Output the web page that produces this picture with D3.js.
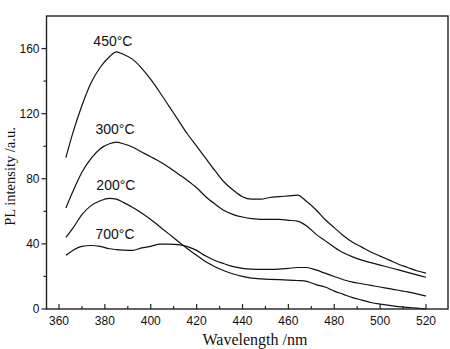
<!DOCTYPE html>
<html>
<head>
<meta charset="utf-8">
<script src="https://cdn.jsdelivr.net/npm/d3@7"></script>
<style>
  html, body { margin: 0; padding: 0; background: #fff; }
  svg { display: block; }
</style>
</head>
<body>
<svg id="chart" width="450" height="349"></svg>
<script>
// ---- data ----
const wavelengths = [363, 366, 370, 374, 378, 382, 385, 388, 392, 396, 400, 404, 408, 412, 416, 420, 424, 428, 432, 436, 440, 444, 448, 452, 456, 460, 464, 468, 472, 476, 480, 484, 488, 492, 496, 500, 504, 508, 512, 516, 520];
const s450 = [93, 108, 125, 139, 148.5, 155, 158, 156.5, 153.5, 148, 141, 133, 124.5, 116, 107.5, 100, 92.5, 85, 78, 73, 69, 67.5, 67.5, 68.5, 69, 69.5, 70, 66, 61, 55, 50, 45, 41, 38, 35, 32.5, 30, 27.5, 25.5, 23.5, 22];
const s300 = [62, 72, 84, 92.5, 98.5, 101.5, 102.5, 101.5, 99.5, 96.5, 93.5, 90.5, 87, 83, 79, 74.5, 69, 64.5, 60.5, 58, 56.5, 55.5, 55, 55, 55, 54.5, 54, 51, 46, 42, 38, 34.5, 32, 30, 28.5, 27, 25.5, 24, 22.5, 21, 19.5];
const s200 = [44, 49.5, 58, 63.5, 66.5, 68, 67.5, 65.5, 62.5, 59, 55, 50.5, 46, 41.5, 37, 33, 29, 26, 23.5, 21.5, 20, 19, 18.5, 18.2, 18, 17.8, 17.5, 17, 15, 13.5, 11, 9, 7, 5.5, 4, 3, 2.2, 1.5, 1, 0.5, 0];
const s700 = [33, 36, 38.5, 39, 38.5, 37, 36.5, 36.2, 36, 37.5, 38.5, 39.8, 39.8, 39.5, 38.3, 36, 32.5, 29.8, 27.8, 26, 25, 24.5, 24.3, 24.3, 24.5, 25, 25.5, 25.5, 24, 22, 20, 18, 16.5, 15.5, 14.5, 13.5, 12.5, 11.5, 10.5, 9.3, 8];
const seriesLabels = ["450°C", "300°C", "200°C", "700°C"];
const labelWl = [383.5, 384.4, 384.8, 384.4];
const labelVal = [161.7, 107.5, 73.1, 43];
const xMajorTicks = [360, 380, 400, 420, 440, 460, 480, 500, 520];
const xMinorTicks = [370, 390, 410, 430, 450, 470, 490, 510];
const yMajorTicks = [0, 40, 80, 120, 160];
const yMinorTicks = [20, 60, 100, 140];

// ---- layout ----
const frame = { left: 46.5, right: 448, top: 16, bottom: 309 };
const svg = d3.select("#chart");
const x = d3.scaleLinear().domain([360, 520]).range([59, 426]);
const y = d3.scaleLinear().domain([0, 180]).range([frame.bottom, frame.top]);

const allSeries = [s450, s300, s200, s700];

// curves
const line = d3.line()
  .x((d, i) => x(wavelengths[i]))
  .y(d => y(d))
  .curve(d3.curveMonotoneX);

svg.append("g").selectAll("path")
  .data(allSeries)
  .join("path")
  .attr("d", d => line(d))
  .attr("fill", "none")
  .attr("stroke", "#111")
  .attr("stroke-width", 1.2);

// frame
svg.append("rect")
  .attr("x", frame.left).attr("y", frame.top)
  .attr("width", frame.right - frame.left)
  .attr("height", frame.bottom - frame.top)
  .attr("fill", "none").attr("stroke", "#222").attr("stroke-width", 1.4);

// x axis ticks (inward)
const gx = svg.append("g");
gx.selectAll("line.maj").data(xMajorTicks).join("line")
  .attr("x1", d => x(d)).attr("x2", d => x(d))
  .attr("y1", frame.bottom).attr("y2", frame.bottom - 5)
  .attr("stroke", "#222").attr("stroke-width", 1.2);
gx.selectAll("line.min").data(xMinorTicks).join("line")
  .attr("x1", d => x(d)).attr("x2", d => x(d))
  .attr("y1", frame.bottom).attr("y2", frame.bottom - 3)
  .attr("stroke", "#222").attr("stroke-width", 1.2);
gx.selectAll("text").data(xMajorTicks).join("text")
  .attr("x", d => x(d)).attr("y", frame.bottom + 16)
  .attr("text-anchor", "middle")
  .attr("font-family", "Liberation Sans, Arial, sans-serif")
  .attr("font-size", 12).attr("fill", "#111")
  .text(d => d);

// y axis ticks (outward)
const gy = svg.append("g");
gy.selectAll("line.maj").data(yMajorTicks).join("line")
  .attr("x1", frame.left).attr("x2", frame.left - 5)
  .attr("y1", d => y(d)).attr("y2", d => y(d))
  .attr("stroke", "#222").attr("stroke-width", 1.2);
gy.selectAll("line.min").data(yMinorTicks).join("line")
  .attr("x1", frame.left).attr("x2", frame.left - 3)
  .attr("y1", d => y(d)).attr("y2", d => y(d))
  .attr("stroke", "#222").attr("stroke-width", 1.2);
gy.selectAll("text").data(yMajorTicks).join("text")
  .attr("x", frame.left - 7).attr("y", d => y(d) + 4.3)
  .attr("text-anchor", "end")
  .attr("font-family", "Liberation Sans, Arial, sans-serif")
  .attr("font-size", 12).attr("fill", "#111")
  .text(d => d);

// axis titles
svg.append("text")
  .attr("x", 255).attr("y", 345)
  .attr("text-anchor", "middle")
  .attr("font-family", "Liberation Serif, Times New Roman, serif")
  .attr("font-size", 16).attr("fill", "#111")
  .text("Wavelength /nm");
svg.append("text")
  .attr("transform", "translate(15,176.5) rotate(-90)")
  .attr("text-anchor", "middle")
  .attr("font-family", "Liberation Serif, Times New Roman, serif")
  .attr("font-size", 14.5).attr("fill", "#111")
  .text("PL intensity /a.u.");

// curve labels
svg.append("g").selectAll("text")
  .data(seriesLabels)
  .join("text")
  .attr("x", (d, i) => x(labelWl[i]))
  .attr("y", (d, i) => y(labelVal[i]))
  .attr("text-anchor", "middle")
  .attr("font-family", "Liberation Sans, Arial, sans-serif")
  .attr("font-size", 14).attr("fill", "#111")
  .text(d => d);
</script>
</body>
</html>
